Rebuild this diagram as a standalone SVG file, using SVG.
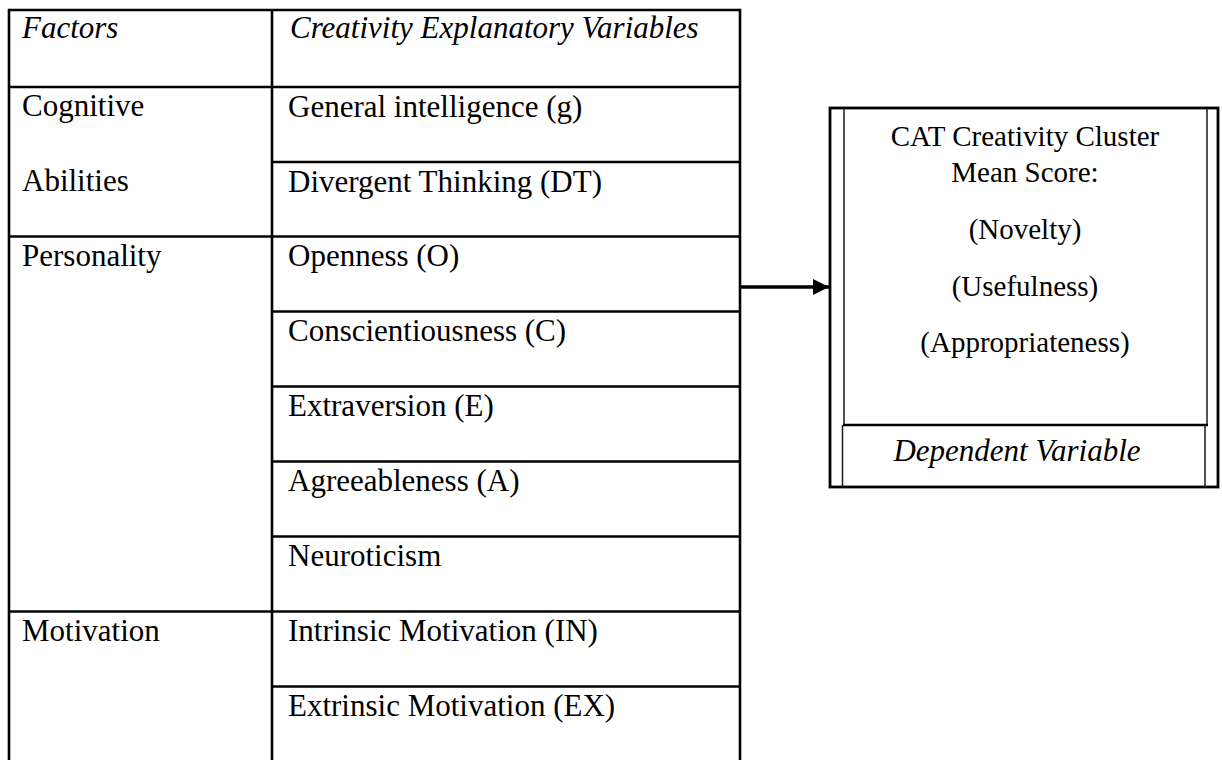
<svg xmlns="http://www.w3.org/2000/svg" width="1222" height="760" viewBox="0 0 1222 760">
<style>
  .t { font-family: "Liberation Serif", "Times New Roman", serif; font-size: 31px; fill: #000; }
  .i { font-style: italic; }
  .b { font-family: "Liberation Serif", "Times New Roman", serif; font-size: 29px; fill: #000; text-anchor: middle; }
  .ln { stroke: #000; stroke-width: 2.6; fill: none; }
  .thin { stroke: #1a1a1a; stroke-width: 1.5; fill: none; }
</style>
<defs>
  <marker id="arrow" markerWidth="16" markerHeight="16" refX="16" refY="8" orient="auto" markerUnits="userSpaceOnUse">
    <polygon points="0,0 16,8 0,16" fill="#000"/>
  </marker>
</defs>
<rect width="1222" height="760" fill="#fff"/>

<g id="table-grid">
  <line class="ln" x1="9" y1="10" x2="740" y2="10"/>
  <line class="ln" x1="9" y1="8.7" x2="9" y2="762"/>
  <line class="ln" x1="272" y1="10" x2="272" y2="762"/>
  <line class="ln" x1="740" y1="8.7" x2="740" y2="762"/>
  <line class="ln" x1="9" y1="87" x2="740" y2="87"/>
  <line class="ln" x1="272" y1="162" x2="740" y2="162"/>
  <line class="ln" x1="9" y1="236.5" x2="740" y2="236.5"/>
  <line class="ln" x1="272" y1="311.5" x2="740" y2="311.5"/>
  <line class="ln" x1="272" y1="386.5" x2="740" y2="386.5"/>
  <line class="ln" x1="272" y1="461.5" x2="740" y2="461.5"/>
  <line class="ln" x1="272" y1="536.5" x2="740" y2="536.5"/>
  <line class="ln" x1="9" y1="611.5" x2="740" y2="611.5"/>
  <line class="ln" x1="272" y1="686.5" x2="740" y2="686.5"/>
</g>

<g id="header">
  <text class="t i" x="22" y="38">Factors</text>
  <text class="t i" x="290" y="38">Creativity Explanatory Variables</text>
</g>

<g id="factor-cognitive">
  <text class="t" x="22" y="116">Cognitive</text>
  <text class="t" x="22" y="191">Abilities</text>
</g>
<g id="var-g"><text class="t" x="288" y="117">General intelligence (g)</text></g>
<g id="var-dt"><text class="t" x="288" y="192">Divergent Thinking (DT)</text></g>

<g id="factor-personality"><text class="t" x="22" y="266">Personality</text></g>
<g id="var-o"><text class="t" x="288" y="266">Openness (O)</text></g>
<g id="var-c"><text class="t" x="288" y="341">Conscientiousness (C)</text></g>
<g id="var-e"><text class="t" x="288" y="416">Extraversion (E)</text></g>
<g id="var-a"><text class="t" x="288" y="491">Agreeableness (A)</text></g>
<g id="var-n"><text class="t" x="288" y="566">Neuroticism</text></g>

<g id="factor-motivation"><text class="t" x="22" y="641">Motivation</text></g>
<g id="var-in"><text class="t" x="288" y="641">Intrinsic Motivation (IN)</text></g>
<g id="var-ex"><text class="t" x="288" y="716">Extrinsic Motivation (EX)</text></g>

<g id="connectors">
  <line x1="741" y1="287" x2="829" y2="287" stroke="#000" stroke-width="3.5" marker-end="url(#arrow)"/>
</g>

<g id="dependent-variable">
  <rect x="830" y="108" width="388" height="379" fill="none" stroke="#000" stroke-width="2.8"/>
  <line class="thin" x1="844" y1="108" x2="844" y2="425"/>
  <line class="thin" x1="1207" y1="108" x2="1207" y2="425"/>
  <line class="ln" x1="843" y1="425" x2="1208" y2="425"/>
  <line class="thin" x1="842.5" y1="425" x2="842.5" y2="487"/>
  <line class="thin" x1="1205" y1="425" x2="1205" y2="487"/>
  <text class="b" x="1025" y="146">CAT Creativity Cluster</text>
  <text class="b" x="1025" y="182">Mean Score:</text>
  <text class="b" x="1025" y="239">(Novelty)</text>
  <text class="b" x="1025" y="296">(Usefulness)</text>
  <text class="b" x="1025" y="352">(Appropriateness)</text>
  <text class="t i" x="1017" y="461" text-anchor="middle">Dependent Variable</text>
</g>
</svg>
